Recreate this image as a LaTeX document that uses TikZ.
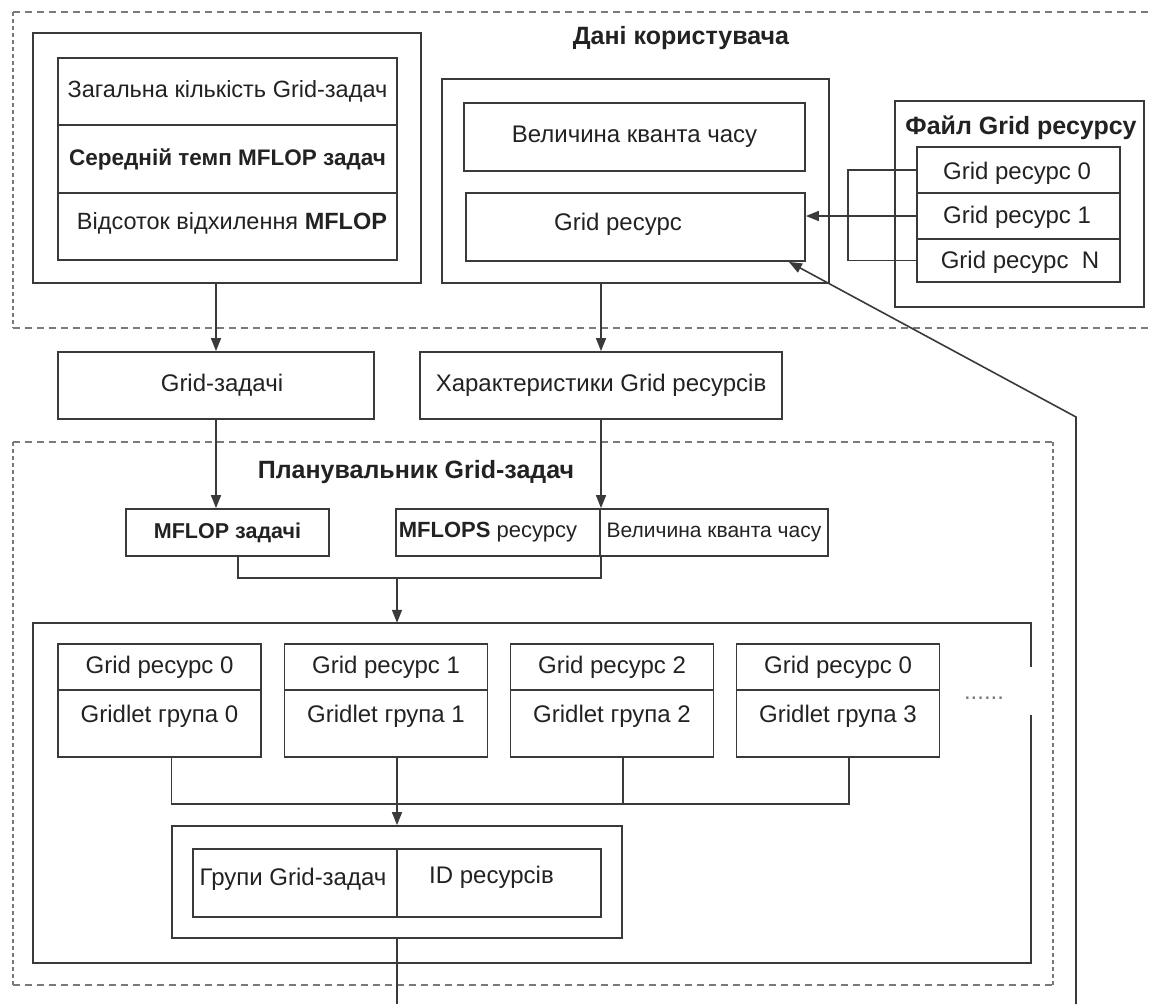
\documentclass[tikz,border=0pt]{standalone}
\usepackage{fontspec}
\setmainfont{Liberation Sans}
\usetikzlibrary{arrows.meta,calc}
\definecolor{lc}{HTML}{3A3A3A}
\definecolor{dc}{HTML}{7A7A7A}
\definecolor{tc}{HTML}{222222}
\newcommand\myfs[1]{\fontsize{#1}{#1}\selectfont}
\begin{document}
\begin{tikzpicture}[x=1pt,y=-1pt,
 bx/.style={draw=lc,line width=1.8pt,inner sep=0pt,text=tc,font=\myfs{24}},
 box/.style n args={2}{bx,minimum width=#1pt,minimum height=#2pt},
 txt/.style={inner sep=0pt,text=tc,font=\myfs{24}},
 ttl/.style={inner sep=0pt,text=tc,font=\myfs{25}\bfseries},
 ln/.style={draw=lc,line width=1.6pt},
 arr/.style={ln,-{Triangle[length=13pt,width=10pt]}},
 dsh/.style={draw=dc,line width=1.8pt,dash pattern=on 7pt off 5pt},
 dshv/.style={draw=dc,line width=1.8pt,dash pattern=on 4pt off 3pt}]
\useasboundingbox (0,0) rectangle (1150,1004);

% ---------- region 1: user data ----------
\draw[dsh] (13,12) -- (1150,12);
\draw[dsh] (13,328) -- (1150,328);
\draw[dshv] (13,12) -- (13,328);
\node[ttl] (t1) at (681,38) {Дані користувача};

\node[box={388}{250}] (lo) at (227,158) {};
\node[box={339}{67},font=\myfs{23.5}] (li1) at (227.5,91.5) {Загальна кількість Grid-задач};
\node[box={339}{68},font=\myfs{22.5}\bfseries] (li2) at (227.5,159) {Середній темп MFLOP задач};
\node[box={339}{67}] (li3) at (227.5,226.5) {};
\node[txt,font=\myfs{23.5}] (li3t) at (232,223) {Відсоток відхилення \textbf{MFLOP}};

\node[box={387}{204}] (mo) at (635.5,181) {};
\node[box={341}{68}] (mi1) at (634.5,137) {Величина кванта часу};
\node[box={339}{68}] (mi2) at (635.5,227) {};
\node[txt] (mi2t) at (618,224) {Grid ресурс};

\node[box={249}{206}] (fo) at (1019.5,204) {};
\node[ttl] (t3) at (1021,128) {Файл Grid ресурсу};
\node[box={203}{46}] (fi0) at (1018.5,170) {};
\node[box={203}{46}] (fi1) at (1018.5,216) {};
\node[box={203}{43}] (fi2) at (1018.5,260.5) {};
\node[txt] (fi0t) at (1017,173) {Grid ресурс 0};
\node[txt] (fi1t) at (1017,217) {Grid ресурс 1};
\node[txt] (fi2t) at (1020,262) {Grid ресурс\ \ N};

\draw[ln] (fi0.west) -- ++(-68,0) |- (fi2.west);
\draw[arr] (fi1.west) -- (fi1.west -| mi2.east);

% ---------- middle row ----------
\node[box={316}{67}] (gz) at (216,385.5) {};
\node[txt] (gzt) at (222,385.5) {Grid-задачі};
\node[box={362}{67}] (hr) at (601,385.5) {Характеристики Grid ресурсів};

\draw[arr] (gz.north |- lo.south) -- (gz.north);
\draw[arr] (hr.north |- mo.south) -- (hr.north);

% ---------- region 2: scheduler ----------
\draw[dsh] (13,442) -- (1053,442);
\draw[dsh] (13,985) -- (1053,985);
\draw[dshv] (13,442) -- (13,985);
\draw[dshv] (1053,442) -- (1053,985);
\node[ttl] (t2) at (416,472) {Планувальник Grid-задач};

\node[box={203}{47},font=\myfs{21.5}\bfseries] (mf) at (227.5,532.5) {MFLOP задачі};
\node[box={204}{47}] (mr1) at (498,532.5) {};
\node[txt,font=\myfs{22}] (mr1t) at (488,532.5) {\textbf{MFLOPS} ресурсу};
\node[box={228}{47},font=\myfs{21}] (mr2) at (714,532.5) {Величина кванта часу};

\draw[arr] (gz.south) -- (gz.south |- mf.north);
\draw[arr] (hr.south) -- (hr.south |- mr1.north);

\coordinate (mfo) at ($(mf.south)+(10.5,0)$);
\coordinate (mj) at (397,577);
\draw[ln] (mfo) |- ($(mr1.south east)+(0,21)$) -- (mr1.south east);

% big box with gap on the right
\node[minimum width=998pt,minimum height=340pt,inner sep=0pt] (big) at (532,793) {};
\coordinate (gapA) at (1031,667);
\coordinate (gapB) at (1031,715);
\draw[ln,line width=1.8pt] (big.north east |- gapA) -- (big.north east) -- (big.north west) -- (big.south west) -- (big.south east) -- (big.south east |- gapB);
\node[txt,font=\myfs{24},text=dc] (dots) at (984,698) {......};

\draw[arr] (mj) -- (mj |- big.north);

% resource boxes
\foreach \i/\cx/\g in {0/159.5/0,1/386/1,2/612/2,3/838/0}{
  \node[box={203}{46}] (r\i t) at (\cx,667) {Grid ресурс \g};
  \node[box={203}{67}] (r\i b) at (\cx,723.5) {};
}
\node[txt] (r0l) at ($(r0b.north)+(0,27)$) {Gridlet група 0};
\node[txt] (r1l) at ($(r1b.north)+(0,27)$) {Gridlet група 1};
\node[txt] (r2l) at ($(r2b.north)+(0,27)$) {Gridlet група 2};
\node[txt] (r3l) at ($(r3b.north)+(0,27)$) {Gridlet група 3};

\coordinate (c0) at ($(r0b.south)+(12,0)$);
\coordinate (c1) at ($(r1b.south)+(11,0)$);
\coordinate (c2) at ($(r2b.south)+(11,0)$);
\coordinate (c3) at ($(r3b.south)+(11,0)$);
\draw[ln] (c0) -- ++(0,46) -| (c3);
\draw[ln] (c2) -- ++(0,46);

% groups box
\node[box={450}{112}] (go) at (397,882) {};
\node[box={204}{68}] (gi1) at (295,883) {};
\node[box={204}{68}] (gi2) at (499,883) {};
\node[txt] (gi1t) at (293,879) {Групи Grid-задач};
\node[txt] (gi2t) at (491.5,877) {ID ресурсів};

\draw[arr] (c1) -- (c1 |- go.north);

\coordinate (bot) at (397,1004);
\draw[ln] (go.south) -- (bot);

% long return line
\coordinate (vb) at (1076,1004);
\coordinate (vc) at (1076,417);
\coordinate (tip) at ($(mi2.south east)+(-17,0)$);
\draw[arr] (vb) -- (vc) -- (tip);
\end{tikzpicture}
\end{document}
